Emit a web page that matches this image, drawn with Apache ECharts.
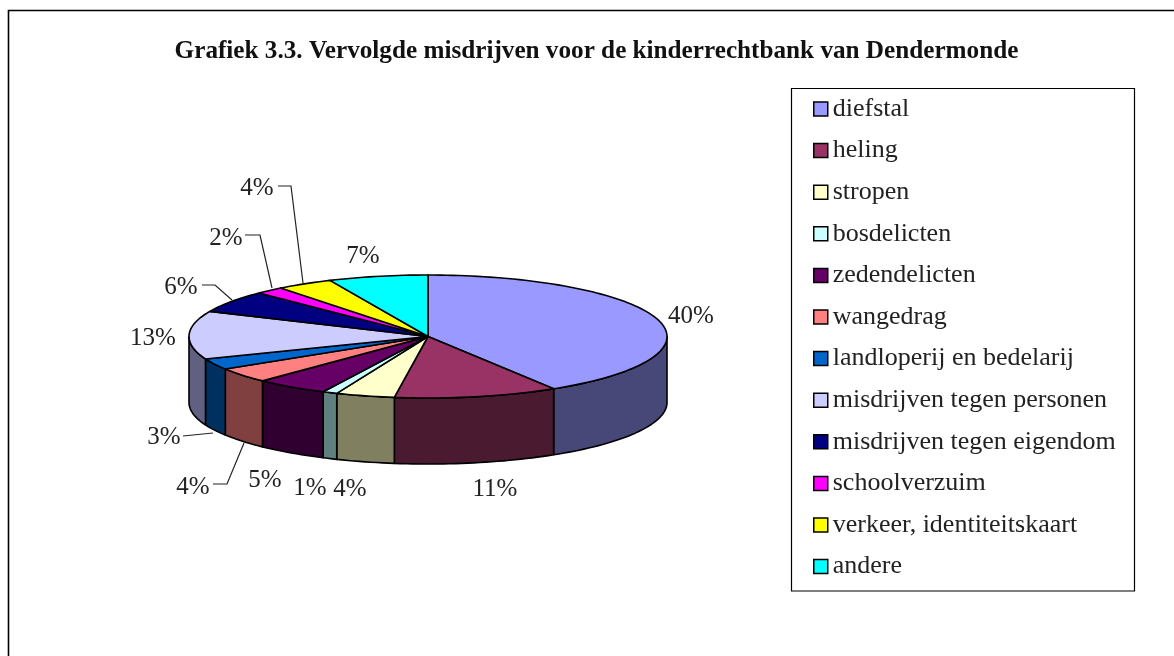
<!DOCTYPE html>
<html><head><meta charset="utf-8">
<style>html,body{margin:0;padding:0;background:#fff}#c{width:1174px;height:656px}</style>
<script src="https://cdn.jsdelivr.net/npm/echarts@6/dist/echarts.min.js"></script>
</head><body><div id="c"></div>
<script>
// ---- data ----
const categories = ['diefstal','heling','stropen','bosdelicten','zedendelicten','wangedrag','landloperij en bedelarij','misdrijven tegen personen','misdrijven tegen eigendom','schoolverzuim','verkeer, identiteitskaart','andere'];
const shares = [40,11,4,1,5,4,3,13,6,2,4,7];
const topColors = ['#9999FF','#993366','#FFFFCC','#CCFFFF','#660066','#FF8080','#0066CC','#CCCCFF','#000080','#FF00FF','#FFFF00','#00FFFF'];
const sideColors = ['#474778','#4A1A30','#808060','#608080','#300030','#804040','#003060','#606080','#000040','#800080','#808000','#008080'];
const titleText = 'Grafiek 3.3. Vervolgde misdrijven voor de kinderrechtbank van Dendermonde';

// ---- layout of the drawing ----
const pie = {cx:428, cy:336.5, rx:239, ry:61.5, depth:66, warp:4.5};
const labelCenters = [[691,316],[495,489],[350,489],[310,488],[265,480],[193,487],[164,437],[153,338],[181,287],[226,238],[257,188],[363,256]];
const leaders = {5:[[213,484],[227,484],[244,443]],6:[[183,436],[213,433]],8:[[202,285],[215,285],[232,300]],9:[[245,235],[260,235],[272,288]],10:[[278,186],[291,186],[303,283]]};
const legendBox = {x:791.5,y:88.5,w:343,h:502.5};
const serif = '"Liberation Serif", serif';
const total = shares.reduce((a,b)=>a+b,0);

// share position (degrees clockwise from top) with the slight perspective shift of the 3D view
function deg(cum){ const a = cum/total*360; return a + pie.warp*Math.sin(a/2*Math.PI/180); }
function pt(a,dy){ const r=a*Math.PI/180; return [pie.cx+pie.rx*Math.sin(r), pie.cy-pie.ry*Math.cos(r)+(dy||0)]; }
function arc(a0,a1,dy){ const out=[]; const n=Math.max(2,Math.ceil((a1-a0)/1.5)); for(let i=0;i<=n;i++) out.push(pt(a0+(a1-a0)*i/n,dy)); return out; }

function makeRender(idx){
  const before = shares.slice(0,idx).reduce((a,b)=>a+b,0);
  return function(params, api){
    const v = api.value(0);
    const a0 = deg(before), a1 = deg(before+v);
    const children = [];
    const w0 = Math.max(a0,90), w1 = Math.min(a1,270);
    const line = {stroke:'#000', lineWidth:1.6, lineJoin:'round'};
    if (w1>w0){
      const pts = arc(w0,w1,0).concat(arc(w0,w1,pie.depth).reverse());
      children.push({type:'polygon',shape:{points:pts},style:Object.assign({fill:sideColors[idx]},line)});
    }
    const top = [[pie.cx,pie.cy]].concat(arc(a0,a1,0));
    children.push({type:'polygon',z2:5,shape:{points:top},style:Object.assign({fill:topColors[idx]},line)});
    if (leaders[idx]) children.push({type:'polyline',z2:6,shape:{points:leaders[idx]},style:{stroke:'#222',lineWidth:1.2,fill:null}});
    const c = labelCenters[idx];
    children.push({type:'text',z2:7,style:{text:v+'%',x:c[0],y:c[1],align:'center',verticalAlign:'middle',fill:'#222',font:'25px '+serif}});
    return {type:'group',children};
  };
}

const chart = echarts.init(document.getElementById('c'),null,{renderer:'canvas'});
chart.setOption({
  animation:false,
  backgroundColor:'#fff',
  title:{text:titleText,left:591.5,top:34,textAlign:'center',textStyle:{fontFamily:serif,fontWeight:'bold',fontSize:25.2,color:'#111'}},
  legend:{
    data:categories, orient:'vertical', left:813, top:96, padding:0, icon:'rect',
    itemWidth:14,itemHeight:14,itemGap:15.6,selectedMode:false,
    itemStyle:{borderColor:'#000',borderWidth:1.5},
    textStyle:{fontFamily:serif,fontSize:26,color:'#222'}
  },
  graphic:[
    {type:'polyline',silent:true,shape:{points:[[8.5,670],[8.5,10.5],[1180,10.5]]},style:{fill:null,stroke:'#000',lineWidth:1.6}},
    {type:'rect',silent:true,shape:{x:legendBox.x,y:legendBox.y,width:legendBox.w,height:legendBox.h},style:{fill:null,stroke:'#000',lineWidth:1.2}}
  ],
  series: categories.map((name,i)=>({
    type:'custom',name,coordinateSystem:'none',
    data:[[shares[i]]],
    itemStyle:{color:topColors[i]},
    renderItem:makeRender(i)
  }))
});
</script></body></html>
